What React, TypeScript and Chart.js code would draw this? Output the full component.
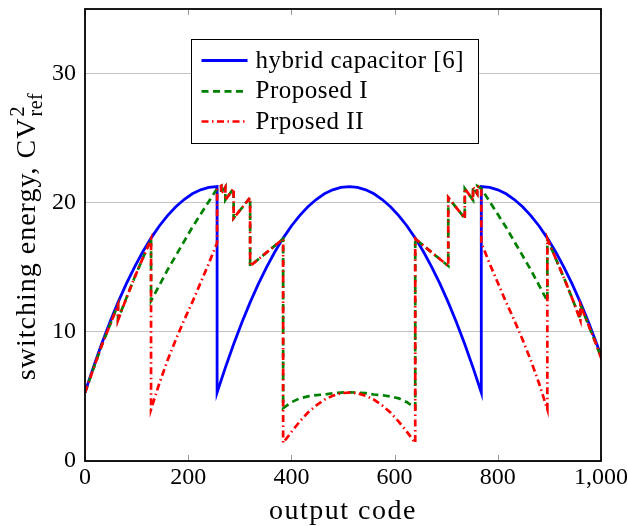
import React, { useEffect, useRef } from "react";
import { Chart, registerables } from "chart.js";

Chart.register(...registerables);

const FONT_FAMILY = '"Liberation Serif", "Times New Roman", serif';

// ---- data (output code, switching energy in C*Vref^2) ----
const blueCodes = [
  0, 16, 32, 48, 64, 80, 96, 112, 128, 144, 160, 176, 192, 208, 224, 240, 256,
  256, 272, 288, 304, 320, 336, 352, 368, 384, 400, 416, 432, 448, 464, 480, 496, 512,
  528, 544, 560, 576, 592, 608, 624, 640, 656, 672, 688, 704, 720, 736, 752, 768,
  768, 784, 800, 816, 832, 848, 864, 880, 896, 912, 928, 944, 960, 976, 992, 1008, 1024,
];
const blueEnergy = [
  5.3, 7.23, 9.04, 10.72, 12.28, 13.71, 15.02, 16.2, 17.26, 18.2, 19.0, 19.69, 20.25, 20.69, 21.0, 21.19, 21.25,
  5.3, 7.23, 9.04, 10.72, 12.28, 13.71, 15.02, 16.2, 17.26, 18.2, 19.0, 19.69, 20.25, 20.69, 21.0, 21.19, 21.25,
  21.19, 21.0, 20.69, 20.25, 19.69, 19.0, 18.2, 17.26, 16.2, 15.02, 13.71, 12.28, 10.72, 9.04, 7.23, 5.3,
  21.25, 21.19, 21.0, 20.69, 20.25, 19.69, 19.0, 18.2, 17.26, 16.2, 15.02, 13.71, 12.28, 10.72, 9.04, 7.23, 5.3,
];

const greenCodes = [
  0, 16, 32, 48, 64, 64, 80, 96, 112, 128,
  128, 144, 160, 176, 192, 208, 224, 240, 256,
  264, 264, 272, 272, 288, 288, 320, 320, 384, 384,
  400, 416, 432, 448, 464, 480, 496, 512, 528, 544, 560, 576, 592, 608, 624, 640,
  640, 704, 704, 736, 736, 752, 752, 760, 760, 768,
  784, 800, 816, 832, 848, 864, 880, 896,
  896, 912, 928, 944, 960, 960, 976, 992, 1008, 1024,
];
const greenEnergy = [
  5.3, 7.1, 8.9, 10.5, 12.1, 11.0, 12.6, 14.2, 15.7, 17.2,
  12.4, 13.6, 14.8, 15.9, 17.0, 18.1, 19.1, 20.1, 21.1,
  21.3, 20.7, 21.2, 20.2, 21.1, 18.8, 20.4, 15.1, 17.2, 4.1,
  4.55, 4.85, 5.0, 5.1, 5.15, 5.25, 5.3, 5.32, 5.3, 5.25, 5.15, 5.1, 5.0, 4.85, 4.55, 4.1,
  17.2, 15.1, 20.4, 18.8, 21.1, 20.2, 21.2, 20.7, 21.3, 21.1,
  20.1, 19.1, 18.1, 17.0, 15.9, 14.8, 13.6, 12.4,
  17.2, 15.7, 14.2, 12.6, 11.0, 12.1, 10.5, 8.9, 7.1, 5.3,
];

const redCodes = [
  0, 16, 32, 48, 64, 64, 80, 96, 112, 128,
  128, 144, 160, 176, 192, 208, 224, 240, 256,
  256,
  264, 264, 272, 272, 288, 288, 320, 320, 384, 384,
  400, 416, 432, 448, 464, 480, 496, 512, 528, 544, 560, 576, 592, 608, 624, 640,
  640, 704, 704, 736, 736, 752, 752, 760, 760, 768,
  768,
  784, 800, 816, 832, 848, 864, 880, 896,
  896, 912, 928, 944, 960, 960, 976, 992, 1008, 1024,
];
const redEnergy = [
  5.3, 7.1, 8.9, 10.5, 12.1, 10.9, 12.6, 14.2, 15.7, 17.2,
  4.0, 6.0, 7.8, 9.4, 10.9, 12.3, 13.8, 15.3, 16.9,
  21.1,
  21.3, 20.7, 21.2, 20.2, 21.1, 18.8, 20.4, 15.1, 17.2, 1.4,
  2.25, 3.05, 3.75, 4.3, 4.75, 5.05, 5.25, 5.3, 5.25, 5.05, 4.75, 4.3, 3.75, 3.05, 2.25, 1.4,
  17.2, 15.1, 20.4, 18.8, 21.1, 20.2, 21.2, 20.7, 21.3, 21.1,
  16.9,
  15.3, 13.8, 12.3, 10.9, 9.4, 7.8, 6.0, 4.0,
  17.2, 15.7, 14.2, 12.6, 10.9, 12.1, 10.5, 8.9, 7.1, 5.3,
];

const seriesNames = ["hybrid capacitor [6]", "Proposed I", "Prposed II"];
const xTickValues = [0, 200, 400, 600, 800, 1000];
const xTickLabels = ["0", "200", "400", "600", "800", "1,000"];
const yTickValues = [0, 10, 20, 30];
const yTickLabels = ["0", "10", "20", "30"];
const xTitle = "output code";
const yTitleMain = "switching energy, CV";
const yTitleSup = "2";
const yTitleSub = "ref";

function toPoints(xs: number[], ys: number[]) {
  return xs.map((x, i) => ({ x, y: ys[i] }));
}

const decorPlugin = {
  id: "decor",
  afterDatasetsDraw(chart: any) {
    const { ctx, chartArea, scales } = chart;
    const { left, right, top, bottom } = chartArea;
    ctx.save();

    // inward tick marks on x (bottom and top)
    ctx.strokeStyle = "#9a9a9a";
    ctx.lineWidth = 1;
    xTickValues.forEach((v) => {
      const px = Math.round(scales.x.getPixelForValue(v)) + 0.5;
      ctx.beginPath();
      ctx.moveTo(px, bottom);
      ctx.lineTo(px, bottom - 6);
      ctx.moveTo(px, top);
      ctx.lineTo(px, top + 6);
      ctx.stroke();
    });

    // frame
    ctx.strokeStyle = "#000";
    ctx.lineWidth = 1.8;
    ctx.strokeRect(left, top, right - left, bottom - top);

    // legend
    const lx = left + 106.5;
    const ly = top + 30.5;
    const lw = 287;
    const lh = 104;
    ctx.fillStyle = "#fff";
    ctx.fillRect(lx, ly, lw, lh);
    ctx.strokeStyle = "#000";
    ctx.lineWidth = 1;
    ctx.strokeRect(lx, ly, lw, lh);
    const rowY = [ly + 21, ly + 51.8, ly + 82];
    ctx.font = `25px ${FONT_FAMILY}`;
    (ctx as any).letterSpacing = "0.5px";
    chart.data.datasets.forEach((ds: any, i: number) => {
      const y = rowY[i];
      ctx.save();
      ctx.strokeStyle = ds.borderColor;
      ctx.lineWidth = ds.borderWidth;
      ctx.setLineDash(ds.borderDash || []);
      ctx.beginPath();
      ctx.moveTo(lx + 10, y);
      ctx.lineTo(lx + 56, y);
      ctx.stroke();
      ctx.restore();
      ctx.fillStyle = "#000";
      ctx.textAlign = "left";
      ctx.textBaseline = "alphabetic";
      ctx.fillText(seriesNames[i], lx + 64, y + 7);
    });

    // x title
    ctx.font = `28px ${FONT_FAMILY}`;
    (ctx as any).letterSpacing = "1.5px";
    ctx.fillStyle = "#000";
    ctx.textAlign = "center";
    ctx.textBaseline = "alphabetic";
    ctx.fillText(xTitle, (left + right) / 2, bottom + 58);

    // y title (rotated) with superscript / subscript
    ctx.save();
    ctx.translate(35, (top + bottom) / 2 + 2);
    ctx.rotate(-Math.PI / 2);
    ctx.textAlign = "left";
    (ctx as any).letterSpacing = "1px";
    ctx.font = `28px ${FONT_FAMILY}`;
    const mainW = ctx.measureText(yTitleMain).width;
    ctx.font = `20px ${FONT_FAMILY}`;
    (ctx as any).letterSpacing = "0.5px";
    const subW = ctx.measureText(yTitleSub).width;
    const supW = ctx.measureText(yTitleSup).width;
    const total = mainW + Math.max(subW, supW);
    const sx = -total / 2;
    ctx.font = `28px ${FONT_FAMILY}`;
    (ctx as any).letterSpacing = "1px";
    ctx.fillText(yTitleMain, sx, 0);
    ctx.font = `20px ${FONT_FAMILY}`;
    (ctx as any).letterSpacing = "0.5px";
    ctx.fillText(yTitleSup, sx + mainW + 1, -11);
    ctx.fillText(yTitleSub, sx + mainW + 1, 7);
    ctx.restore();

    ctx.restore();
  },
};

export default function App() {
  const canvasRef = useRef<HTMLCanvasElement | null>(null);

  useEffect(() => {
    const canvas = canvasRef.current;
    if (!canvas) return;
    const tickFont = { family: FONT_FAMILY, size: 24, lineHeight: 1.2 };
    const chart = new Chart(canvas, {
      type: "line",
      data: {
        datasets: [
          {
            label: seriesNames[0],
            data: toPoints(blueCodes, blueEnergy),
            borderColor: "#0000ff",
            borderWidth: 2.8,
            borderDash: [],
            pointRadius: 0,
            tension: 0,
            fill: false,
            order: 3,
          },
          {
            label: seriesNames[1],
            data: toPoints(greenCodes, greenEnergy),
            borderColor: "#008000",
            borderWidth: 2.7,
            borderDash: [7, 4.5],
            pointRadius: 0,
            tension: 0,
            fill: false,
            order: 2,
          },
          {
            label: seriesNames[2],
            data: toPoints(redCodes, redEnergy),
            borderColor: "#ff0000",
            borderWidth: 2.7,
            borderDash: [7, 3.5, 1.5, 3.5],
            pointRadius: 0,
            tension: 0,
            fill: false,
            order: 1,
          },
        ],
      },
      options: {
        responsive: false,
        animation: false,
        layout: { padding: { left: 0, top: 9, right: 27, bottom: 0 } },
        plugins: {
          legend: { display: false },
          tooltip: { enabled: false },
          title: { display: false },
        },
        events: [],
        scales: {
          x: {
            type: "linear",
            min: 0,
            max: 1000,
            afterBuildTicks: (s: any) => {
              s.ticks = xTickValues.map((v) => ({ value: v }));
            },
            afterFit: (s: any) => {
              s.height = 65;
              s.paddingLeft = 0;
              s.paddingRight = 0;
            },
            grid: { display: false, drawTicks: false },
            border: { display: false },
            ticks: {
              padding: 2,
              color: "#000",
              font: tickFont,
              autoSkip: false,
              maxRotation: 0,
              minRotation: 0,
              callback: (_v: any, i: number) => xTickLabels[i],
            },
          },
          y: {
            type: "linear",
            min: 0,
            max: 35,
            afterBuildTicks: (s: any) => {
              s.ticks = yTickValues.map((v) => ({ value: v }));
            },
            afterFit: (s: any) => {
              s.width = 85;
              s.paddingTop = 0;
              s.paddingBottom = 0;
            },
            grid: { color: "#c4c4c4", lineWidth: 1, drawTicks: false },
            border: { display: false },
            ticks: {
              padding: 9,
              color: "#000",
              font: tickFont,
              callback: (_v: any, i: number) => yTickLabels[i],
            },
          },
        },
      },
      plugins: [decorPlugin],
    } as any);
    return () => chart.destroy();
  }, []);

  return (
    <div style={{ position: "fixed", left: 0, top: 0, width: 628, height: 526, background: "#fff" }}>
      <canvas ref={canvasRef} width={628} height={526} style={{ display: "block" }} />
    </div>
  );
}
